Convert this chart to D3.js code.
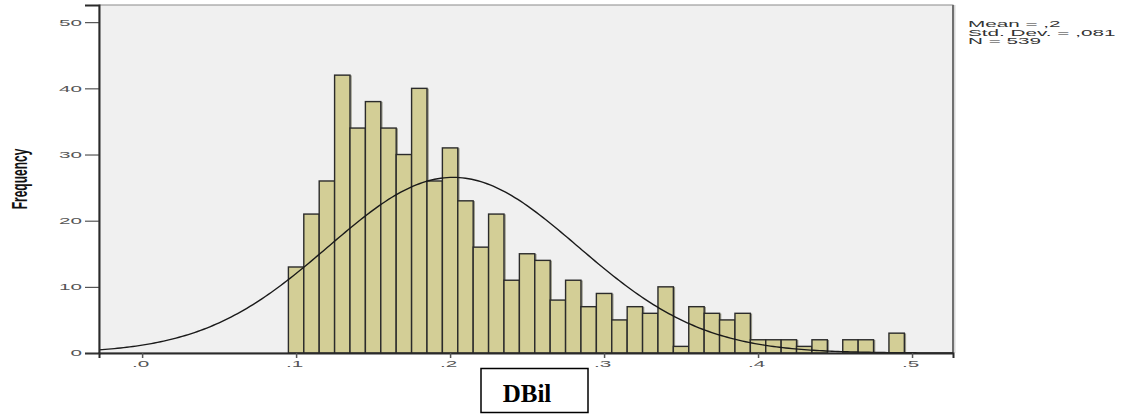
<!DOCTYPE html>
<html>
<head>
<meta charset="utf-8">
<script src="https://cdn.jsdelivr.net/npm/d3@7"></script>
<style>
  body { margin: 0; background: #fff; }
  svg { display: block; }
</style>
</head>
<body>
<script>
// bin centres of DBil (bin width .01) and counts per bin
const binCenters = [0.10, 0.11, 0.12, 0.13, 0.14, 0.15, 0.16, 0.17, 0.18, 0.19,
    0.20, 0.21, 0.22, 0.23, 0.24, 0.25, 0.26, 0.27, 0.28, 0.29,
    0.30, 0.31, 0.32, 0.33, 0.34, 0.35, 0.36, 0.37, 0.38, 0.39,
    0.40, 0.41, 0.42, 0.43, 0.44, 0.45, 0.46, 0.47, 0.48, 0.49];
const counts = [13, 21, 26, 42, 34, 38, 34, 30, 40, 26,
    31, 23, 16, 21, 11, 15, 14, 8, 11, 7,
    9, 5, 7, 6, 10, 1, 7, 6, 5, 6,
    2, 2, 2, 1, 2, 0, 2, 2, 0, 3];
const binWidth = 0.01;

// summary statistics (for the normal curve and the legend)
const meanValue = 0.202;
const stdDev = 0.081;
const nCases = 539;
const statLabels = ['Mean = ,2', 'Std. Dev. = ,081', 'N = 539'];

const xTicks = [0, 0.1, 0.2, 0.3, 0.4, 0.5];
const yTicks = [0, 10, 20, 30, 40, 50];

const width = 1140, height = 417;
const plotLeft = 99, plotRight = 953, plotTop = 5, plotBottom = 353;
// the small labels of the original export are stretched sideways
const stretch = 2.3;

const svg = d3.select('body')
    .append('svg')
    .attr('width', width)
    .attr('height', height);

const x = d3.scaleLinear()
    .domain([-0.028, 0.5266])
    .range([plotLeft, plotRight]);

const y = d3.scaleLinear()
    .domain([0, 52.6])
    .range([plotBottom, plotTop]);

// plot background
svg.append('rect')
    .attr('x', plotLeft)
    .attr('y', plotTop)
    .attr('width', plotRight - plotLeft)
    .attr('height', plotBottom - plotTop)
    .attr('fill', '#f0f0f0')
    .attr('stroke', '#8a8a8a')
    .attr('stroke-width', 1);

svg.append('line')
    .attr('x1', plotRight + 1.5).attr('x2', plotRight + 1.5)
    .attr('y1', plotTop).attr('y2', plotBottom)
    .attr('stroke', '#d8d8d8')
    .attr('stroke-width', 2);
svg.append('line')
    .attr('x1', plotRight).attr('x2', plotRight)
    .attr('y1', plotTop).attr('y2', plotBottom)
    .attr('stroke', '#707070')
    .attr('stroke-width', 2);

const bins = binCenters.map((c, i) => ({ c, n: counts[i] })).filter(d => d.n > 0);

// soft shadow under bars
svg.append('g')
    .selectAll('rect')
    .data(bins)
    .enter()
    .append('rect')
    .attr('x', d => x(d.c - binWidth / 2) + 1)
    .attr('y', d => y(d.n) + 1)
    .attr('width', d => x(d.c + binWidth / 2) - x(d.c - binWidth / 2))
    .attr('height', d => y(0) - y(d.n) - 1)
    .attr('fill', 'none')
    .attr('stroke', '#9a9a8a')
    .attr('stroke-width', 1.5);

svg.append('g')
    .selectAll('rect')
    .data(bins)
    .enter()
    .append('rect')
    .attr('x', d => x(d.c - binWidth / 2))
    .attr('y', d => y(d.n))
    .attr('width', d => x(d.c + binWidth / 2) - x(d.c - binWidth / 2))
    .attr('height', d => y(0) - y(d.n))
    .attr('fill', '#d3ce96')
    .attr('stroke', '#2b2b2b')
    .attr('stroke-width', 1.4);

// normal curve from the summary statistics
const normal = v => nCases * binWidth / (stdDev * Math.sqrt(2 * Math.PI)) *
    Math.exp(-0.5 * Math.pow((v - meanValue) / stdDev, 2));
const curveX = d3.range(x.domain()[0], x.domain()[1], 0.002);
curveX.push(x.domain()[1]);

svg.append('path')
    .datum(curveX)
    .attr('fill', 'none')
    .attr('stroke', '#1a1a1a')
    .attr('stroke-width', 1.4)
    .attr('d', d3.line().x(v => x(v)).y(v => y(normal(v))));

// axes
const yAxis = svg.append('g')
    .attr('transform', `translate(${plotLeft},0)`)
    .call(d3.axisLeft(y).tickValues(yTicks).tickFormat(d3.format('d')).tickSize(14).tickPadding(3));
yAxis.select('.domain').attr('stroke', '#2a2a2a').attr('stroke-width', 2);
yAxis.selectAll('.tick line').attr('stroke', '#333');
yAxis.selectAll('.tick text')
    .attr('x', -17 / stretch)
    .attr('transform', `scale(${stretch},1)`)
    .attr('font-family', 'Liberation Sans, Arial, sans-serif')
    .attr('font-size', 9)
    .attr('fill', '#555');

const xAxis = svg.append('g')
    .attr('transform', `translate(0,${plotBottom})`)
    .call(d3.axisBottom(x).tickValues(xTicks).tickFormat(d => '.' + Math.round(d * 10)).tickSize(5).tickPadding(3));
xAxis.select('.domain').attr('stroke', '#2a2a2a').attr('stroke-width', 2);
xAxis.selectAll('.tick line').attr('stroke', '#555').attr('stroke-width', 1.5);
xAxis.selectAll('.tick text')
    .attr('x', -2 / stretch)
    .attr('transform', `scale(${stretch},1)`)
    .attr('font-family', 'Liberation Sans, Arial, sans-serif')
    .attr('font-size', 9)
    .attr('fill', '#555');

// y title
svg.append('text')
    .attr('transform', 'translate(27,179) rotate(-90) scale(1,1.9)')
    .attr('text-anchor', 'middle')
    .attr('font-family', 'Liberation Sans, Arial, sans-serif')
    .attr('font-weight', 'bold')
    .attr('font-size', 12)
    .attr('fill', '#111')
    .text('Frequency');

// stats legend
svg.append('g')
    .attr('transform', `translate(968,0) scale(${stretch},1)`)
    .selectAll('text')
    .data(statLabels)
    .enter()
    .append('text')
    .attr('x', 0)
    .attr('y', (d, i) => 27 + i * 8.6)
    .attr('font-family', 'Liberation Sans, Arial, sans-serif')
    .attr('font-size', 9)
    .attr('fill', '#333')
    .text(d => d);

// x title box
svg.append('rect')
    .attr('x', 481)
    .attr('y', 368.5)
    .attr('width', 107)
    .attr('height', 44)
    .attr('fill', '#fff')
    .attr('stroke', '#000')
    .attr('stroke-width', 1.5);
svg.append('text')
    .attr('x', 527)
    .attr('y', 402)
    .attr('text-anchor', 'middle')
    .attr('font-family', 'Liberation Serif, Times New Roman, serif')
    .attr('font-weight', 'bold')
    .attr('font-size', 25)
    .attr('fill', '#000')
    .text('DBil');
</script>
</body>
</html>
